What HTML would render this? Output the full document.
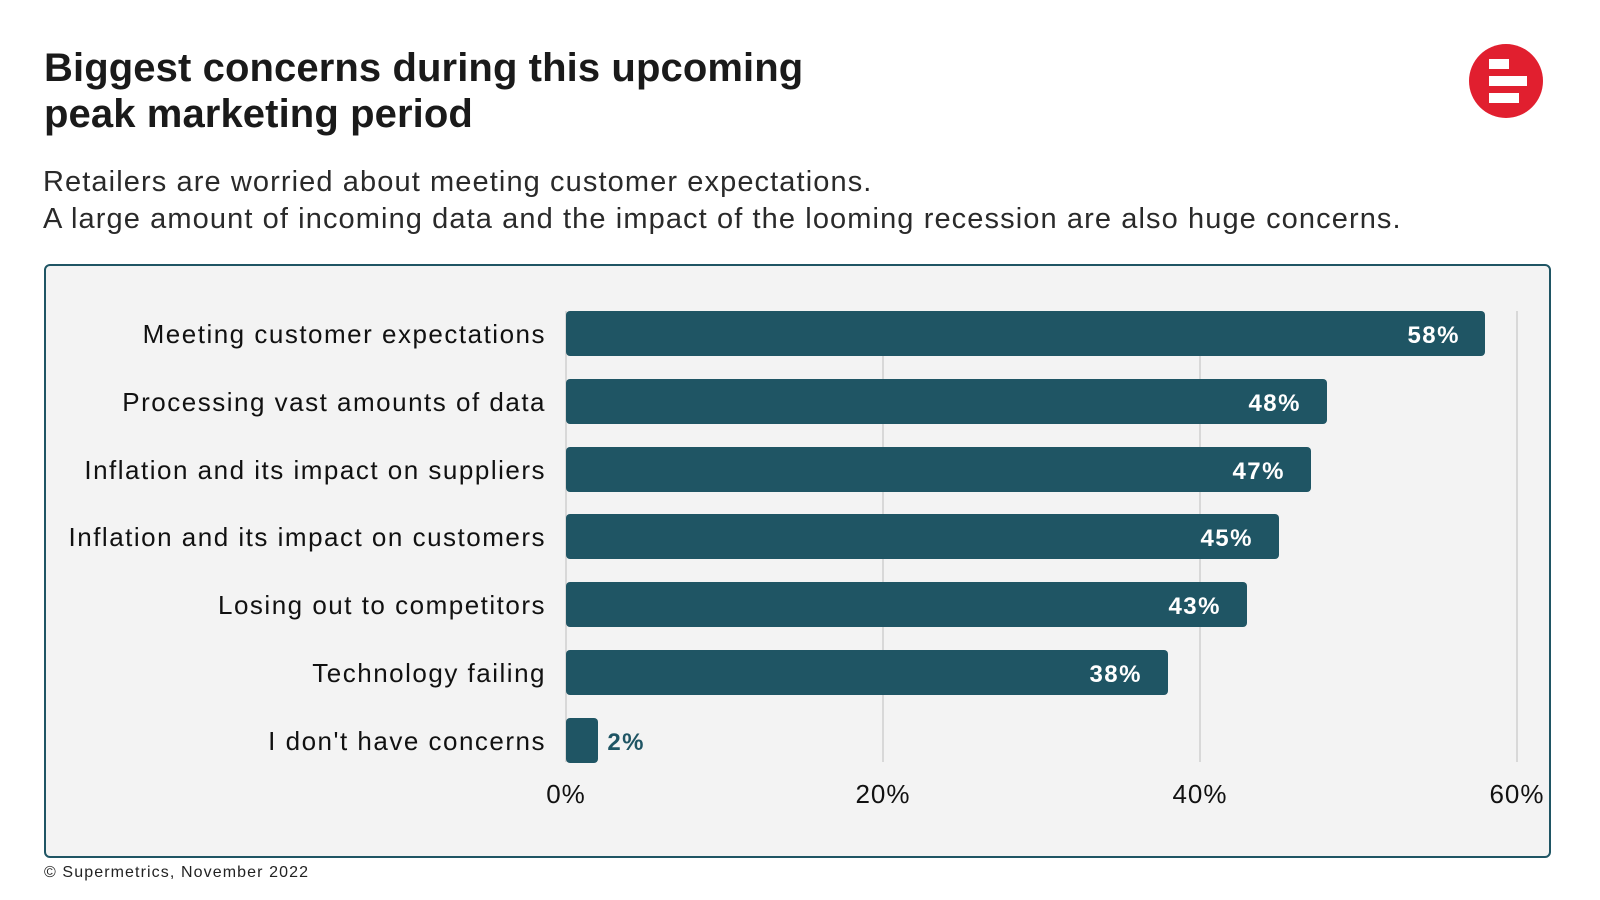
<!DOCTYPE html>
<html><head><meta charset="utf-8"><style>
body{margin:0;width:1600px;height:900px;background:#fff;font-family:"Liberation Sans",sans-serif;position:relative;overflow:hidden;color:#111}
.t{position:absolute;left:44px;top:45px;font-size:40px;font-weight:bold;line-height:46px;color:#1a1a1a;letter-spacing:0.1px}
.s{position:absolute;left:43px;top:164px;font-size:29px;line-height:37px;color:#2a2a2a;letter-spacing:1.1px}
.box{position:absolute;left:44px;top:264px;width:1503px;height:590px;border:2px solid #1f5564;border-radius:6px;background:#f3f3f3}
.f{position:absolute;left:44px;top:864px;font-size:16px;color:#222;letter-spacing:1.1px}
</style></head><body>
<div class="t">Biggest concerns during this upcoming<br>peak marketing period</div>
<div class="s">Retailers are worried about meeting customer expectations.<br>A large amount of incoming data and the impact of the looming recession are also huge concerns.</div>
<svg style="position:absolute;left:1469px;top:44px" width="74" height="74"><circle cx="37" cy="37" r="37" fill="#e11f2f"/><rect x="20" y="15" width="20" height="10" fill="#fff"/><rect x="20" y="32" width="38" height="10" fill="#fff"/><rect x="20" y="49" width="30" height="10" fill="#fff"/></svg>
<div class="box"></div>
<svg style="position:absolute;left:0;top:0" width="1600" height="900" font-family="Liberation Sans, sans-serif">
<g stroke="#cfcfcf" stroke-width="1.5"><line x1="883" y1="311" x2="883" y2="762"/><line x1="1200" y1="311" x2="1200" y2="762"/><line x1="1517" y1="311" x2="1517" y2="762"/><line x1="566" y1="311" x2="566" y2="762"/></g>
<g fill="#1f5564">
<rect x="566" y="311" width="919" height="45" rx="4"/>
<rect x="566" y="379" width="761" height="45" rx="4"/>
<rect x="566" y="447" width="745" height="45" rx="4"/>
<rect x="566" y="514" width="713" height="45" rx="4"/>
<rect x="566" y="582" width="681" height="45" rx="4"/>
<rect x="566" y="650" width="602" height="45" rx="4"/>
<rect x="566" y="718" width="32" height="45" rx="4"/>
</g>
<g font-size="26" fill="#111" text-anchor="end" letter-spacing="1.5">
<text x="546" y="343">Meeting customer expectations</text>
<text x="546" y="411">Processing vast amounts of data</text>
<text x="546" y="479">Inflation and its impact on suppliers</text>
<text x="546" y="546">Inflation and its impact on customers</text>
<text x="546" y="614">Losing out to competitors</text>
<text x="546" y="682">Technology failing</text>
<text x="546" y="750">I don't have concerns</text>
</g>
<g font-size="24" font-weight="bold" fill="#fff" text-anchor="end" letter-spacing="1.5">
<text x="1460" y="343">58%</text>
<text x="1301" y="411">48%</text>
<text x="1285" y="479">47%</text>
<text x="1253" y="546">45%</text>
<text x="1221" y="614">43%</text>
<text x="1142" y="682">38%</text>
<text x="645" y="750" fill="#1f5564">2%</text>
</g>
<g font-size="26" fill="#111" text-anchor="middle" letter-spacing="1">
<text x="566" y="803">0%</text><text x="883" y="803">20%</text><text x="1200" y="803">40%</text><text x="1517" y="803">60%</text>
</g>
</svg>
<div class="f">© Supermetrics, November 2022</div>
</body></html>
